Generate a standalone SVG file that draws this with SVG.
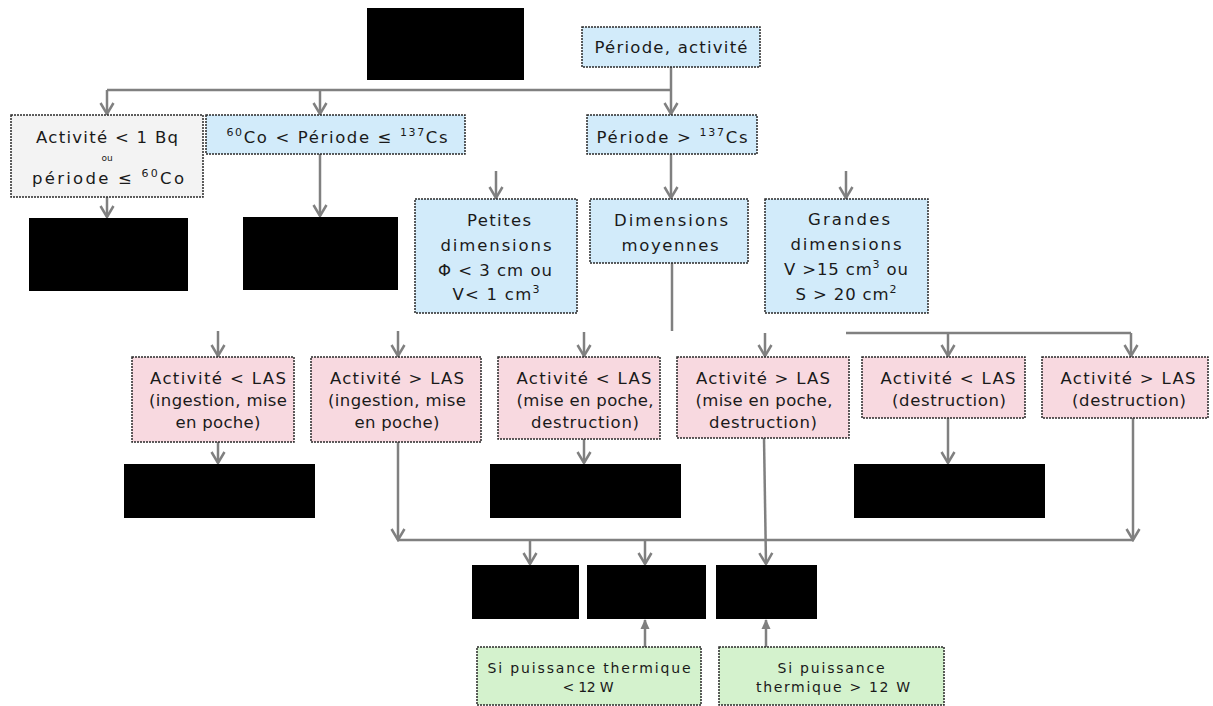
<svg xmlns="http://www.w3.org/2000/svg" width="1213" height="706" viewBox="0 0 1213 706">
<style>
text{font-family:"DejaVu Sans","Open Sans",sans-serif;font-size:16.5px;fill:#1a1a1a;text-anchor:middle}
.sm{font-size:14px}
.sup{font-size:11px}
.box{stroke:#2a2a2a;stroke-width:1.5;stroke-dasharray:2 1}
.blue{fill:#d2ebfa}
.pink{fill:#f8d9e0}
.green{fill:#d4f2cd}
.grey{fill:#f3f3f3}
.blk{fill:#000}
.c{fill:none;stroke:#808080;stroke-width:2.5}
.a{marker-end:url(#arr)}
.u{marker-end:url(#tri)}
</style>
<defs>
<marker id="arr" markerUnits="userSpaceOnUse" markerWidth="16" markerHeight="16" viewBox="0 0 16 16" refX="14" refY="8" orient="auto">
<path d="M3,1.5 L14,8 L3,14.5" fill="none" stroke="#808080" stroke-width="2.5"/>
</marker>
<marker id="tri" markerUnits="userSpaceOnUse" markerWidth="10" markerHeight="10" viewBox="0 0 10 10" refX="9" refY="5" orient="auto">
<path d="M0,0.5 L10,5 L0,9.5 z" fill="#808080"/>
</marker>
</defs>
<rect width="1213" height="706" fill="#fff"/>

<g id="connectors">
<path class="c a" d="M671,67 V114"/>
<path class="c" d="M107,90 H671"/>
<path class="c a" d="M107,90 V114"/>
<path class="c a" d="M320,90 V114"/>
<path class="c a" d="M107,197 V217"/>
<path class="c a" d="M320,154 V216"/>
<path class="c a" d="M496,171 V198"/>
<path class="c a" d="M671,154 V198"/>
<path class="c a" d="M846,171 V198"/>
<path class="c" d="M672,263 V331"/>
<path class="c" d="M846,333 H1131"/>
<path class="c a" d="M948,333 V356"/>
<path class="c a" d="M1131,333 V356"/>
<path class="c a" d="M218,331 V356"/>
<path class="c a" d="M398,331 V356"/>
<path class="c a" d="M584,332 V356"/>
<path class="c a" d="M765,333 V356"/>
<path class="c a" d="M218,442 V463"/>
<path class="c a" d="M584,439 V463"/>
<path class="c a" d="M948,418 V463"/>
<path class="c a" d="M398,442 V540"/>
<path class="c a" d="M1133,418 V540"/>
<path class="c" d="M398,540 H1133"/>
<path class="c a" d="M530,540 V564"/>
<path class="c a" d="M645,540 V564"/>
<path class="c a" d="M764,438 L766,564"/>
<path class="c u" d="M645,647 V620"/>
<path class="c u" d="M766,647 V620"/>
</g>

<g id="n-black-top"><rect class="blk" x="367" y="8" width="157" height="72"/></g>
<g id="n-periode-activite"><rect class="box blue" x="582" y="27" width="178" height="40"/><text x="671" y="53" textLength="153">Période, activité</text></g>

<g id="n-activite-1bq"><rect class="box grey" x="11" y="115" width="192" height="82"/>
<text x="107" y="143" textLength="142">Activité &lt; 1 Bq</text>
<text x="107" y="161" style="font-size:9px">ou</text>
<text x="108" y="184" textLength="152">période ≤ <tspan class="sup" dy="-7">60</tspan><tspan dy="7">Co</tspan></text></g>

<g id="n-co-cs"><rect class="box blue" x="206" y="115" width="259" height="39"/>
<text x="337" y="143" textLength="221"><tspan class="sup" dy="-7">60</tspan><tspan dy="7">Co &lt; Période ≤ </tspan><tspan class="sup" dy="-7">137</tspan><tspan dy="7">Cs</tspan></text></g>

<g id="n-periode-cs"><rect class="box blue" x="587" y="115" width="170" height="39"/>
<text x="672" y="143" textLength="151">Période &gt; <tspan class="sup" dy="-7">137</tspan><tspan dy="7">Cs</tspan></text></g>

<g id="n-black-1"><rect class="blk" x="29" y="218" width="159" height="73"/></g>
<g id="n-black-2"><rect class="blk" x="243" y="217" width="155" height="73"/></g>

<g id="n-petites"><rect class="box blue" x="415" y="199" width="162" height="114"/>
<text x="499" y="226" textLength="64">Petites</text>
<text x="496" y="251" textLength="111">dimensions</text>
<text x="495" y="276" textLength="114">Φ &lt; 3 cm ou</text>
<text x="496" y="300" textLength="87">V&lt; 1 cm<tspan class="sup" dy="-7">3</tspan></text></g>

<g id="n-moyennes"><rect class="box blue" x="590" y="199" width="158" height="64"/>
<text x="671" y="226" textLength="114">Dimensions</text>
<text x="670" y="251" textLength="97">moyennes</text></g>

<g id="n-grandes"><rect class="box blue" x="765" y="199" width="163" height="114"/>
<text x="849" y="225" textLength="82">Grandes</text>
<text x="846" y="250" textLength="111">dimensions</text>
<text x="846" y="275" textLength="124">V &gt;15 cm<tspan class="sup" dy="-7">3</tspan><tspan dy="7"> ou</tspan></text>
<text x="846" y="300" textLength="101">S &gt; 20 cm<tspan class="sup" dy="-7">2</tspan></text></g>

<g id="n-las-a"><rect class="box pink" x="132" y="357" width="162" height="85"/>
<text x="218" y="384" textLength="136">Activité &lt; LAS</text>
<text x="218" y="406" textLength="138">(ingestion, mise</text>
<text x="218" y="428" textLength="85">en poche)</text></g>

<g id="n-las-b"><rect class="box pink" x="311" y="357" width="170" height="85"/>
<text x="397" y="384" textLength="134">Activité &gt; LAS</text>
<text x="397" y="406" textLength="138">(ingestion, mise</text>
<text x="397" y="428" textLength="85">en poche)</text></g>

<g id="n-las-c"><rect class="box pink" x="498" y="357" width="162" height="82"/>
<text x="584" y="384" textLength="135">Activité &lt; LAS</text>
<text x="585" y="406" textLength="137">(mise en poche,</text>
<text x="585" y="428" textLength="108">destruction)</text></g>

<g id="n-las-d"><rect class="box pink" x="677" y="357" width="172" height="81"/>
<text x="763" y="384" textLength="134">Activité &gt; LAS</text>
<text x="764" y="406" textLength="137">(mise en poche,</text>
<text x="763" y="428" textLength="108">destruction)</text></g>

<g id="n-las-e"><rect class="box pink" x="862" y="357" width="163" height="61"/>
<text x="948" y="384" textLength="135">Activité &lt; LAS</text>
<text x="949" y="406" textLength="114">(destruction)</text></g>

<g id="n-las-f"><rect class="box pink" x="1042" y="357" width="166" height="61"/>
<text x="1128" y="384" textLength="135">Activité &gt; LAS</text>
<text x="1129" y="406" textLength="114">(destruction)</text></g>

<g id="n-black-a"><rect class="blk" x="124" y="464" width="191" height="54"/></g>
<g id="n-black-c"><rect class="blk" x="490" y="464" width="191" height="54"/></g>
<g id="n-black-e"><rect class="blk" x="854" y="464" width="191" height="54"/></g>

<g id="n-black-b1"><rect class="blk" x="472" y="565" width="107" height="54"/></g>
<g id="n-black-b2"><rect class="blk" x="587" y="565" width="119" height="54"/></g>
<g id="n-black-b3"><rect class="blk" x="716" y="565" width="101" height="54"/></g>

<g id="n-puissance-inf"><rect class="box green" x="477" y="647" width="224" height="58"/>
<text class="sm" x="589" y="673" textLength="203">Si puissance thermique</text>
<text class="sm" x="588" y="692" textLength="51">&lt; 12 W</text></g>

<g id="n-puissance-sup"><rect class="box green" x="719" y="647" width="225" height="58"/>
<text class="sm" x="831" y="673" textLength="107">Si puissance</text>
<text class="sm" x="833" y="692" textLength="154">thermique &gt; 12 W</text></g>
</svg>
